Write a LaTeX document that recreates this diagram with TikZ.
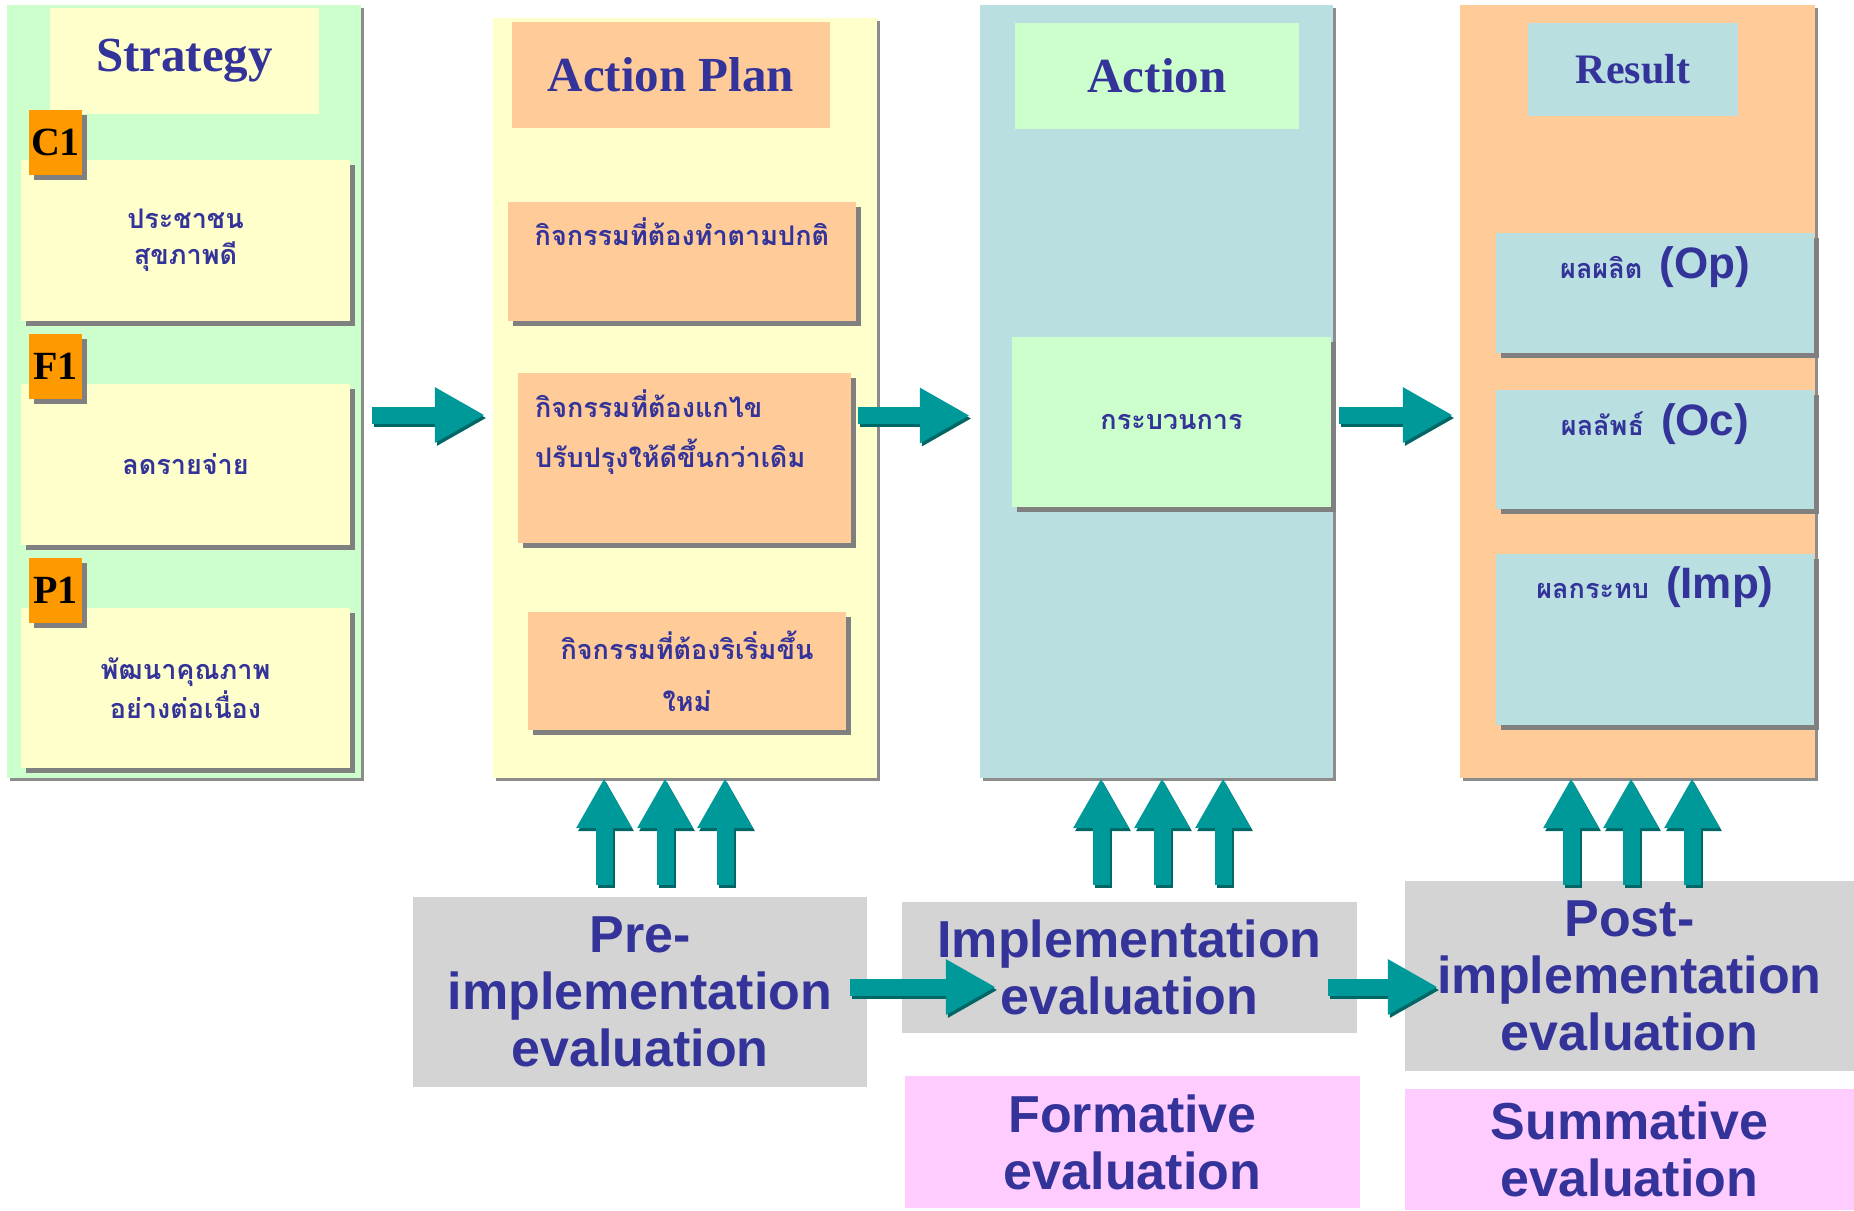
\documentclass[tikz,border=0pt]{standalone}
\usepackage{fontspec}
\setmainfont{Liberation Serif}
\setsansfont{Liberation Sans}
\newfontfamily\thaifont[Script=Thai]{Loma}
\usetikzlibrary{arrows.meta,shadows}
\definecolor{stratgreen}{HTML}{CCFFCC}
\definecolor{paleyellow}{HTML}{FFFFCC}
\definecolor{peach}{HTML}{FFCC99}
\definecolor{paleblue}{HTML}{B9DFE1}
\definecolor{tagorange}{HTML}{FF9900}
\definecolor{evalgray}{HTML}{D4D4D4}
\definecolor{evalpink}{HTML}{FFCCFF}
\definecolor{arrowteal}{HTML}{009999}
\definecolor{arrowdark}{HTML}{006666}
\definecolor{inkblue}{HTML}{333399}
\newcommand{\resfont}{\sffamily\bfseries\fontsize{44}{44}\selectfont}

\begin{document}
\begin{tikzpicture}[
    x=1pt, y=-1pt,
    font=\bfseries\sffamily,
    column/.style={
		rectangle,
		inner sep=0pt,
		drop shadow={shadow xshift=3pt, shadow yshift=-3pt, fill=black, opacity=0.45}
	},
	titlebox/.style={
		rectangle,
		inner sep=0pt,
		text=inkblue,
		font=\rmfamily\bfseries\fontsize{49}{55}\selectfont
	},
	card/.style={
		rectangle,
		inner sep=0pt,
		align=center,
		text=inkblue,
		font=\thaifont\bfseries\fontsize{27}{36}\selectfont,
		drop shadow={shadow xshift=5pt, shadow yshift=-5pt, fill=gray, opacity=1}
	},
	tagbox/.style={
		rectangle,
		inner sep=0pt,
		fill=tagorange,
		minimum width=53pt,
		minimum height=65pt,
		font=\rmfamily\bfseries\fontsize{40}{40}\selectfont,
		drop shadow={shadow xshift=5pt, shadow yshift=-5pt, fill=gray, opacity=1}
	},
	evalbox/.style={
		rectangle,
		inner sep=0pt,
		align=center,
		text=inkblue,
		font=\sffamily\bfseries\fontsize{52}{57}\selectfont
	},
	bigarrow/.style={
		draw=arrowteal,
		line width=17pt,
		-{Triangle[length=50pt, width=52pt]}
	},
	arrowshade/.style={
		bigarrow,
		draw=arrowdark,
		transform canvas={shift={(2pt,-3pt)}}
	}
  ]

 \useasboundingbox (0,0) rectangle (1854,1210);

% // Strategy
 \node [column, fill=stratgreen, minimum width=354pt, minimum height=773pt] (strat) at (184,391.5) {};
 \node [titlebox, fill=paleyellow, minimum width=269pt, minimum height=106pt] (strattitle) at (184.5,61) {Strategy};

 \node [card, fill=paleyellow, minimum width=329pt, minimum height=161pt] (c1card) at (185.5,240.5) {ประชาชน\\สุขภาพดี};
 \node [tagbox] (c1) at (55.5,142.5) {C1};
 \node [card, fill=paleyellow, minimum width=329pt, minimum height=161pt] (f1card) at (185.5,464.5) {ลดรายจ่าย};
 \node [tagbox] (f1) at (55.5,366.5) {F1};
 \node [card, fill=paleyellow, minimum width=329pt, minimum height=160pt,
 font=\thaifont\bfseries\fontsize{27}{39}\selectfont] (p1card) at (185.5,688) {พัฒนาคุณภาพ\\อย่างต่อเนื่อง};
 \node [tagbox] (p1) at (55.5,590.5) {P1};

% // Action Plan
 \node [column, fill=paleyellow, minimum width=384pt, minimum height=760pt] (plan) at (685,398) {};
 \node [titlebox, fill=peach, minimum width=318pt, minimum height=106pt] (plantitle) at (671,75) {Action Plan};

 \node [card, fill=peach, minimum width=348pt, minimum height=119pt] (routine) at (682,261.5)
 {\parbox[c][119pt][t]{348pt}{\centering\rule{0pt}{43pt}กิจกรรมที่ต้องทำตามปกติ}};
 \node [card, fill=peach, minimum width=333pt, minimum height=170pt,
 font=\thaifont\bfseries\fontsize{27}{50}\selectfont] (improve) at (684.5,458)
 {\parbox[c][170pt][t]{333pt}{\raggedright\leftskip=17pt\rule{0pt}{44pt}กิจกรรมที่ต้องแกไข\\ปรับปรุงให้ดีขึ้นกว่าเดิม}};
 \node [card, fill=peach, minimum width=318pt, minimum height=118pt,
 font=\thaifont\bfseries\fontsize{27}{52}\selectfont] (initiate) at (687,671) {กิจกรรมที่ต้องริเริ่มขึ้น\\ใหม่};

% // Action
 \node [column, fill=paleblue, minimum width=353pt, minimum height=773pt] (act) at (1156.5,391.5) {};
 \node [titlebox, fill=stratgreen, minimum width=284pt, minimum height=106pt] (acttitle) at (1157,76) {Action};
 \node [card, fill=stratgreen, minimum width=319pt, minimum height=170pt] (process) at (1171.5,422) {กระบวนการ};

% // Result
 \node [column, fill=peach, minimum width=355pt, minimum height=773pt] (res) at (1637.5,391.5) {};
 \node [titlebox, fill=paleblue, minimum width=210pt, minimum height=93pt,
 font=\rmfamily\bfseries\fontsize{42}{48}\selectfont] (restitle) at (1633,69.5) {Result};

 \node [card, fill=paleblue, minimum width=318pt, minimum height=120pt] (output) at (1655,293)
 {\parbox[c][120pt][t]{318pt}{\centering\rule{0pt}{45pt}ผลผลิต {\resfont\hspace{8pt}(Op)}}};
 \node [card, fill=paleblue, minimum width=318pt, minimum height=119pt] (outcome) at (1655,449.5)
 {\parbox[c][119pt][t]{318pt}{\centering\rule{0pt}{45pt}ผลลัพธ์ {\resfont\hspace{8pt}(Oc)}}};
 \node [card, fill=paleblue, minimum width=318pt, minimum height=171pt] (impact) at (1655,639.5)
 {\parbox[c][171pt][t]{318pt}{\centering\rule{0pt}{44pt}ผลกระทบ {\resfont\hspace{8pt}(Imp)}}};

% // Evaluation
 \node [evalbox, fill=evalgray, minimum width=454pt, minimum height=190pt] (pre) at (640,992) {Pre-\\implementation\\evaluation};
 \node [evalbox, fill=evalgray, minimum width=455pt, minimum height=131pt] (impl) at (1129.5,967.5) {Implementation\\evaluation};
 \node [evalbox, fill=evalpink, minimum width=455pt, minimum height=132pt] (formative) at (1132.5,1142) {Formative\\evaluation};
 \node [evalbox, fill=evalgray, minimum width=449pt, minimum height=190pt] (post) at (1629.5,976) {Post-\\implementation\\evaluation};
 \node [evalbox, fill=evalpink, minimum width=449pt, minimum height=121pt] (summative) at (1629.5,1149.5) {Summative\\evaluation};

% // Flow arrows
 \draw [arrowshade] ([shift={(11,23.5)}]strat.east) -- ([shift={(-8,23.5)}]strat.east -| plan.west);
 \draw [bigarrow]   ([shift={(11,23.5)}]strat.east) -- ([shift={(-8,23.5)}]strat.east -| plan.west);
 \draw [arrowshade] ([shift={(-19,17.5)}]plan.east) -- ([shift={(-10,17.5)}]plan.east -| act.west);
 \draw [bigarrow]   ([shift={(-19,17.5)}]plan.east) -- ([shift={(-10,17.5)}]plan.east -| act.west);
 \draw [arrowshade] ([shift={(6,23.5)}]act.east) -- ([shift={(-7,23.5)}]act.east -| res.west);
 \draw [bigarrow]   ([shift={(6,23.5)}]act.east) -- ([shift={(-7,23.5)}]act.east -| res.west);

 \draw [arrowshade] ([shift={(-17,-5)}]pre.east) -- ([shift={(94,-5)}]pre.east -| impl.west);
 \draw [bigarrow]   ([shift={(-17,-5)}]pre.east) -- ([shift={(94,-5)}]pre.east -| impl.west);
 \draw [arrowshade] ([shift={(-29,19.5)}]impl.east) -- ([shift={(33,19.5)}]impl.east -| post.west);
 \draw [bigarrow]   ([shift={(-29,19.5)}]impl.east) -- ([shift={(33,19.5)}]impl.east -| post.west);

% // Evaluation arrows
 \foreach \x in {604,665,725}{
   \draw [arrowshade] ([yshift=12pt]pre.north -| \x,0) -- (plan.south -| \x,0);
   \draw [bigarrow]   ([yshift=12pt]pre.north -| \x,0) -- (plan.south -| \x,0);
 }
 \foreach \x in {1101,1162,1223}{
   \draw [arrowshade] ([yshift=17pt]impl.north -| \x,0) -- (act.south -| \x,0);
   \draw [bigarrow]   ([yshift=17pt]impl.north -| \x,0) -- (act.south -| \x,0);
 }
 \foreach \x in {1571,1631,1692}{
   \draw [arrowshade] ([yshift=-4pt]post.north -| \x,0) -- (res.south -| \x,0);
   \draw [bigarrow]   ([yshift=-4pt]post.north -| \x,0) -- (res.south -| \x,0);
 }

\end{tikzpicture}
\end{document}
